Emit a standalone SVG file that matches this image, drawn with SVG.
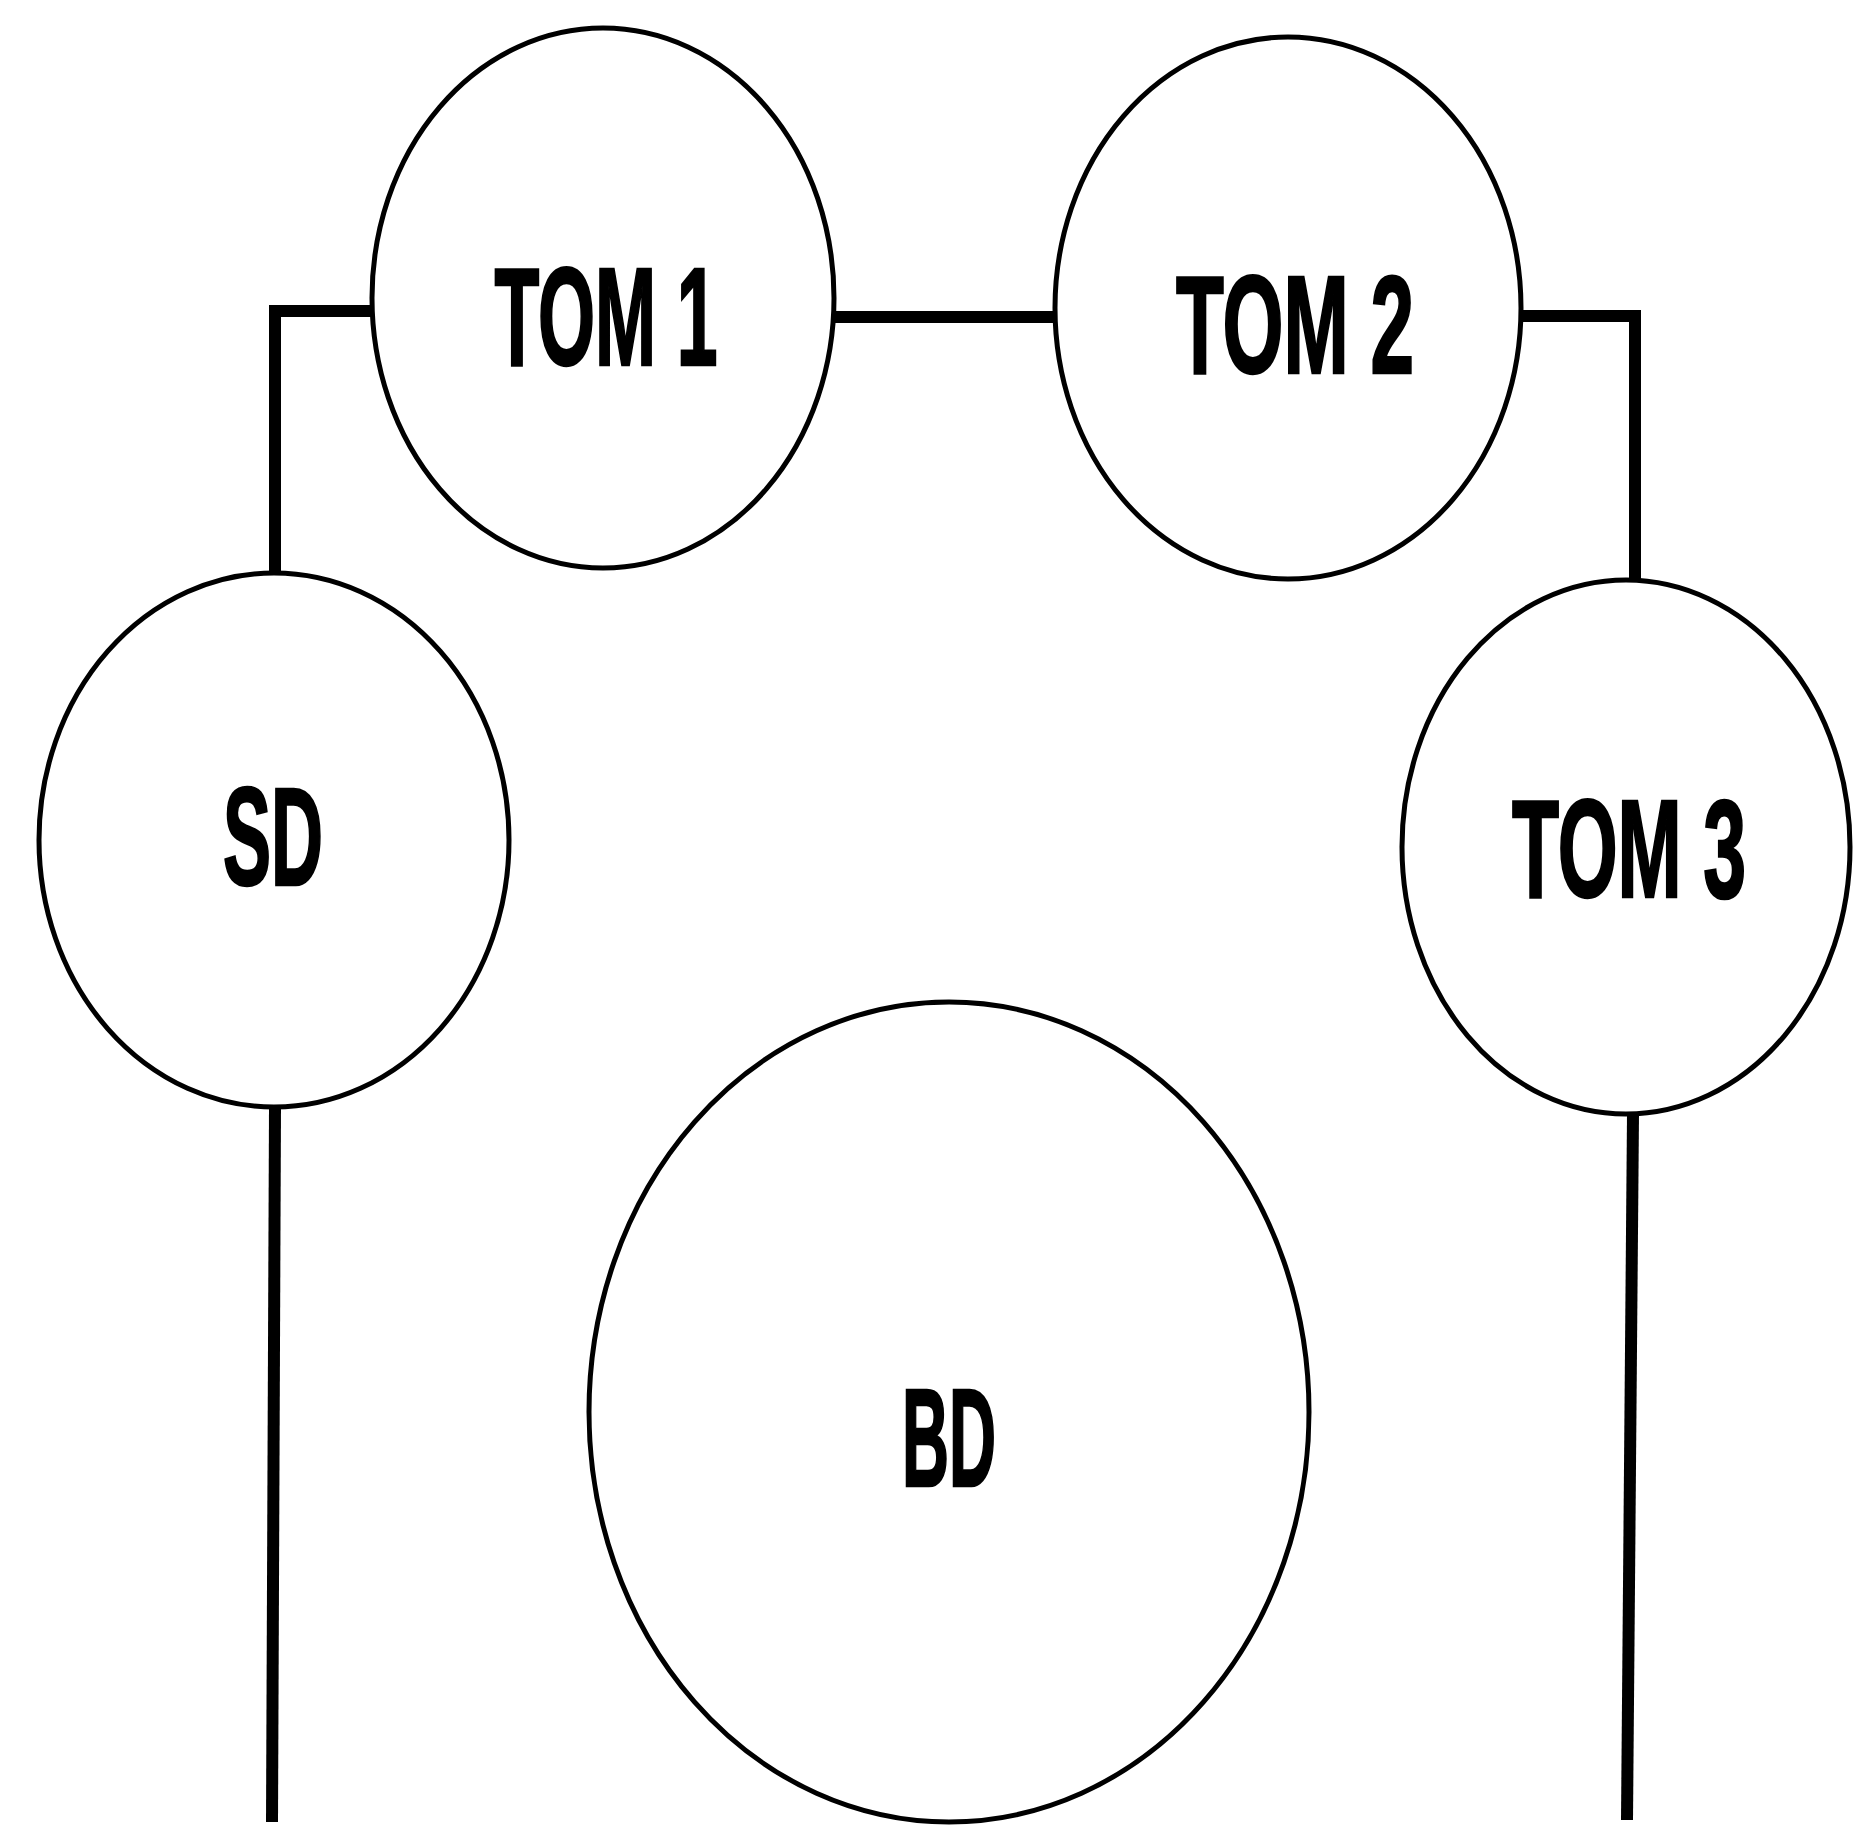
<svg xmlns="http://www.w3.org/2000/svg" width="1853" height="1830" viewBox="0 0 1853 1830">
<style>
.drum{fill:#fff;stroke:#000;stroke-width:5}
.lbl{font-family:"Liberation Sans",Arial,sans-serif;font-weight:bold;font-size:80px;fill:#000;stroke:#000;stroke-width:1.5;text-anchor:middle}
.conn{fill:none;stroke:#000;stroke-width:12;stroke-linecap:butt;stroke-linejoin:miter}
</style>
<rect width="1853" height="1830" fill="#fff"/>
<g id="connectors">
<path class="conn" d="M372 311 H275 V575"/>
<path class="conn" d="M834 317 H1055"/>
<path class="conn" d="M1522 316 H1635 V580"/>
<path class="conn" d="M275 1107 L272 1822"/>
<path class="conn" d="M1633 1114 L1627 1820"/>
</g>
<g id="tom1">
<ellipse class="drum" cx="603" cy="298" rx="231" ry="270"/>
<text class="lbl" transform="translate(606 365) scale(1 1.75)" textLength="223" lengthAdjust="spacingAndGlyphs">TOM 1</text>
</g>
<g id="tom2">
<ellipse class="drum" cx="1288" cy="308" rx="233" ry="271"/>
<text class="lbl" transform="translate(1295 373) scale(1 1.75)" textLength="238" lengthAdjust="spacingAndGlyphs">TOM 2</text>
</g>
<g id="sd">
<ellipse class="drum" cx="274" cy="840" rx="235" ry="267"/>
<text class="lbl" transform="translate(273 885) scale(1 1.75)" textLength="100" lengthAdjust="spacingAndGlyphs">SD</text>
</g>
<g id="tom3">
<ellipse class="drum" cx="1626" cy="847" rx="224" ry="267"/>
<text class="lbl" transform="translate(1629 897) scale(1 1.75)" textLength="234" lengthAdjust="spacingAndGlyphs">TOM 3</text>
</g>
<g id="bd">
<ellipse class="drum" cx="949" cy="1412" rx="360" ry="410"/>
<text class="lbl" transform="translate(949 1486) scale(1 1.75)" textLength="94" lengthAdjust="spacingAndGlyphs">BD</text>
</g>
</svg>
